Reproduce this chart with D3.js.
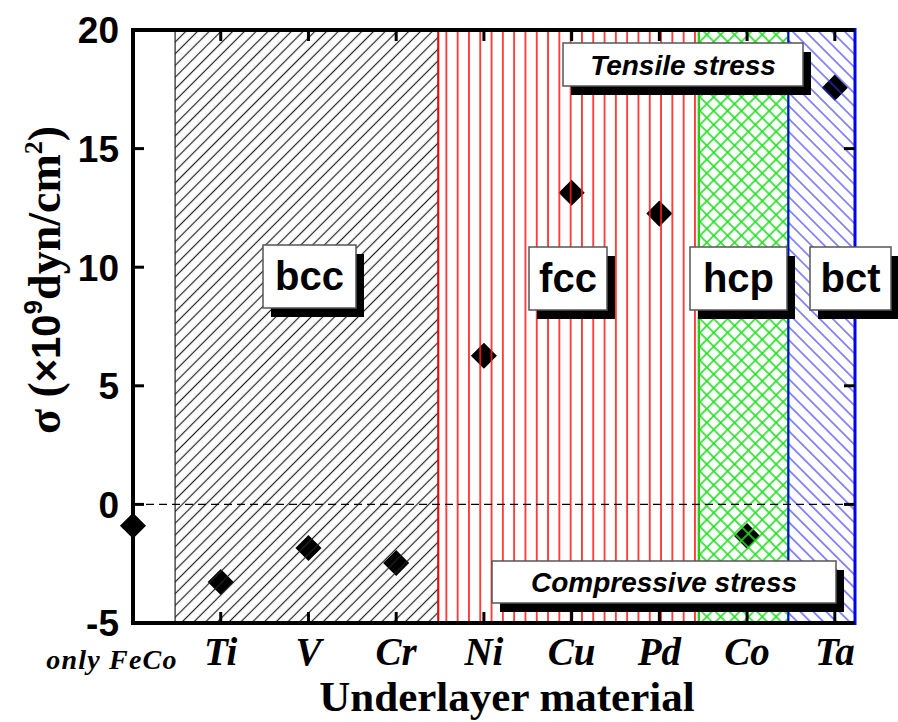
<!DOCTYPE html>
<html>
<head>
<meta charset="utf-8">
<script src="https://cdn.jsdelivr.net/npm/d3@7/dist/d3.min.js"></script>
<style>
  html, body { margin: 0; padding: 0; background: #fff; }
  svg { display: block; }
</style>
</head>
<body>
<svg id="chart" width="898" height="722"></svg>
<script>
// Underlayer materials (x positions are category indices)
const categories = ["only FeCo", "Ti", "V", "Cr", "Ni", "Cu", "Pd", "Co", "Ta"];
// Film stress, in 10^9 dyn/cm^2
const stress = [-0.9, -3.27, -1.84, -2.47, 6.27, 13.14, 12.26, -1.33, 17.57];
// Crystal-structure bands, in category-index units
const phaseNames = ["bcc", "fcc", "hcp", "bct"];
const phaseStart = [0.48, 3.48, 6.45, 7.47];
const phaseEnd = [3.48, 6.45, 7.47, 8.23];
const yTicks = [-5, 0, 5, 10, 15, 20];

const svg = d3.select("#chart");
const M = { left: 133, right: 855, top: 30, bottom: 623 };

const x = d3.scaleLinear().domain([0, 8.23]).range([M.left, M.right]);
const y = d3.scaleLinear().domain([-5, 20]).range([M.bottom, M.top]);

// ---- hatch patterns ----
const defs = svg.append("defs");
function linePattern(id, spacing, angle, color, width) {
  const p = defs.append("pattern")
    .attr("id", id)
    .attr("patternUnits", "userSpaceOnUse")
    .attr("width", spacing).attr("height", spacing)
    .attr("patternTransform", `rotate(${angle})`);
  p.append("line")
    .attr("x1", spacing / 2).attr("x2", spacing / 2)
    .attr("y1", -1).attr("y2", spacing + 1)
    .attr("stroke", color).attr("stroke-width", width);
  return p;
}
linePattern("hatch-bcc", 8.3, 45, "#222", 1.2);
linePattern("hatch-fcc", 11.3, 0, "#ff1a1a", 1.6);
linePattern("hatch-bct", 9.2, -45, "#3030ff", 1.1);
// cross hatch for hcp
(function () {
  const s = 9.8;
  const p = defs.append("pattern")
    .attr("id", "hatch-hcp")
    .attr("patternUnits", "userSpaceOnUse")
    .attr("width", s).attr("height", s)
    .attr("patternTransform", "rotate(45)");
  p.append("line").attr("x1", s / 2).attr("x2", s / 2).attr("y1", -1).attr("y2", s + 1)
    .attr("stroke", "#22e022").attr("stroke-width", 1.6);
  p.append("line").attr("y1", s / 2).attr("y2", s / 2).attr("x1", -1).attr("x2", s + 1)
    .attr("stroke", "#22e022").attr("stroke-width", 1.6);
})();

const phaseStroke = { bcc: "#222", fcc: "#ff0000", hcp: "#11dd11", bct: "#0000ee" };
const phaseStrokeW = { bcc: 1.2, fcc: 2, hcp: 2, bct: 2 };

const phases = phaseNames.map((n, i) => ({ name: n, a: phaseStart[i], b: phaseEnd[i] }));
const points = categories.map((c, i) => ({ cat: c, i, v: stress[i] }));

// ---- data markers (sit beneath the hatching) ----
const diamond = d3.symbol().type(d3.symbolSquare).size(340);
svg.append("g").selectAll("path")
  .data(points)
  .join("path")
  .attr("d", diamond)
  .attr("transform", d => `translate(${x(d.i)},${y(d.v)}) rotate(45)`)
  .attr("fill", "#000");

// ---- hatched bands ----
svg.append("g").selectAll("rect")
  .data(phases)
  .join("rect")
  .attr("x", d => x(d.a))
  .attr("y", M.top)
  .attr("width", d => x(d.b) - x(d.a))
  .attr("height", M.bottom - M.top)
  .attr("fill", d => `url(#hatch-${d.name})`)
  .attr("stroke", d => phaseStroke[d.name])
  .attr("stroke-width", d => phaseStrokeW[d.name]);

// zero-stress reference line
svg.append("line")
  .attr("x1", M.left).attr("x2", M.right)
  .attr("y1", y(0)).attr("y2", y(0))
  .attr("stroke", "#000").attr("stroke-width", 1.2)
  .attr("stroke-dasharray", "8,5");

// ---- frame ----
svg.append("path")
  .attr("d", `M${M.right},${M.top} H${M.left} V${M.bottom} H${M.right}`)
  .attr("fill", "none").attr("stroke", "#000").attr("stroke-width", 4);
svg.append("line")
  .attr("x1", M.right).attr("x2", M.right)
  .attr("y1", M.top - 2).attr("y2", M.bottom + 2)
  .attr("stroke", "#0000ee").attr("stroke-width", 3);

// ---- ticks (inward, all four sides) ----
const tickLen = 11;
const ticks = svg.append("g").attr("stroke", "#000").attr("stroke-width", 3);
d3.range(1, categories.length).forEach(i => {
  ticks.append("line").attr("x1", x(i)).attr("x2", x(i))
    .attr("y1", M.bottom).attr("y2", M.bottom - tickLen);
  ticks.append("line").attr("x1", x(i)).attr("x2", x(i))
    .attr("y1", M.top).attr("y2", M.top + tickLen);
});
yTicks.forEach(v => {
  ticks.append("line").attr("x1", M.left).attr("x2", M.left + tickLen)
    .attr("y1", y(v)).attr("y2", y(v));
  ticks.append("line").attr("x1", M.right).attr("x2", M.right - tickLen)
    .attr("y1", y(v)).attr("y2", y(v));
});

// ---- tick labels ----
svg.append("g").selectAll("text")
  .data(yTicks)
  .join("text")
  .attr("x", 119)
  .attr("y", d => y(d))
  .attr("dy", "0.36em")
  .attr("text-anchor", "end")
  .attr("font-family", "'Liberation Sans', Arial, sans-serif")
  .attr("font-weight", "bold")
  .attr("font-size", 37)
  .text(d => d);

svg.append("g").selectAll("text")
  .data(points.slice(1))
  .join("text")
  .attr("x", d => x(d.i))
  .attr("y", 665)
  .attr("text-anchor", "middle")
  .attr("font-family", "'Liberation Serif', 'Times New Roman', serif")
  .attr("font-weight", "bold")
  .attr("font-style", "italic")
  .attr("font-size", 39)
  .text(d => d.cat);

svg.append("text")
  .attr("x", 112).attr("y", 669)
  .attr("text-anchor", "middle")
  .attr("font-family", "'Liberation Serif', 'Times New Roman', serif")
  .attr("font-weight", "bold")
  .attr("font-style", "italic")
  .attr("font-size", 28)
  .attr("letter-spacing", 1.2)
  .text(categories[0]);

// ---- axis titles ----
svg.append("text")
  .attr("x", 507).attr("y", 711)
  .attr("text-anchor", "middle")
  .attr("font-family", "'Liberation Serif', 'Times New Roman', serif")
  .attr("font-weight", "bold")
  .attr("font-size", 43)
  .text("Underlayer material");

const yl = svg.append("text")
  .attr("transform", "translate(60,280) rotate(-90)")
  .attr("text-anchor", "middle")
  .attr("font-family", "'Liberation Serif', 'Times New Roman', serif")
  .attr("font-weight", "bold")
  .attr("font-size", 46);
yl.append("tspan").text("σ (");
yl.append("tspan").attr("font-family", "'Liberation Sans', Arial, sans-serif").attr("font-size", 40).text("×10");
yl.append("tspan").attr("font-family", "'Liberation Sans', Arial, sans-serif").attr("font-size", 26).attr("dy", -18).text("9");
yl.append("tspan").attr("dy", 18).text("dyn/cm");
yl.append("tspan").attr("font-size", 26).attr("dy", -18).text("2");
yl.append("tspan").attr("dy", 18).text(")");

// ---- annotation boxes with drop shadow ----
const boxes = [
  { text: "bcc", x0: 263, y0: 245, x1: 356, y1: 308, fs: 40, italic: false },
  { text: "fcc", x0: 529, y0: 247, x1: 607, y1: 310, fs: 40, italic: false },
  { text: "hcp", x0: 690, y0: 247, x1: 787, y1: 310, fs: 40, italic: false },
  { text: "bct", x0: 810, y0: 247, x1: 891, y1: 310, fs: 40, italic: false },
  { text: "Tensile stress", x0: 563, y0: 43, x1: 803, y1: 86, fs: 28, italic: true },
  { text: "Compressive stress", x0: 492, y0: 561, x1: 836, y1: 603, fs: 28, italic: true }
];
const bg = svg.append("g").selectAll("g").data(boxes).join("g");
bg.append("rect")
  .attr("x", d => d.x0 + 8).attr("y", d => d.y0 + 9)
  .attr("width", d => d.x1 - d.x0).attr("height", d => d.y1 - d.y0)
  .attr("fill", "#000");
bg.append("rect")
  .attr("x", d => d.x0).attr("y", d => d.y0)
  .attr("width", d => d.x1 - d.x0).attr("height", d => d.y1 - d.y0)
  .attr("fill", "#fff").attr("stroke", "#555").attr("stroke-width", 1.5);
bg.append("text")
  .attr("x", d => (d.x0 + d.x1) / 2)
  .attr("y", d => (d.y0 + d.y1) / 2)
  .attr("dy", d => d.italic ? "0.36em" : "0.33em")
  .attr("text-anchor", "middle")
  .attr("font-family", "'Liberation Sans', Arial, sans-serif")
  .attr("font-weight", "bold")
  .attr("font-style", d => d.italic ? "italic" : "normal")
  .attr("font-size", d => d.fs)
  .text(d => d.text);
</script>
</body>
</html>
